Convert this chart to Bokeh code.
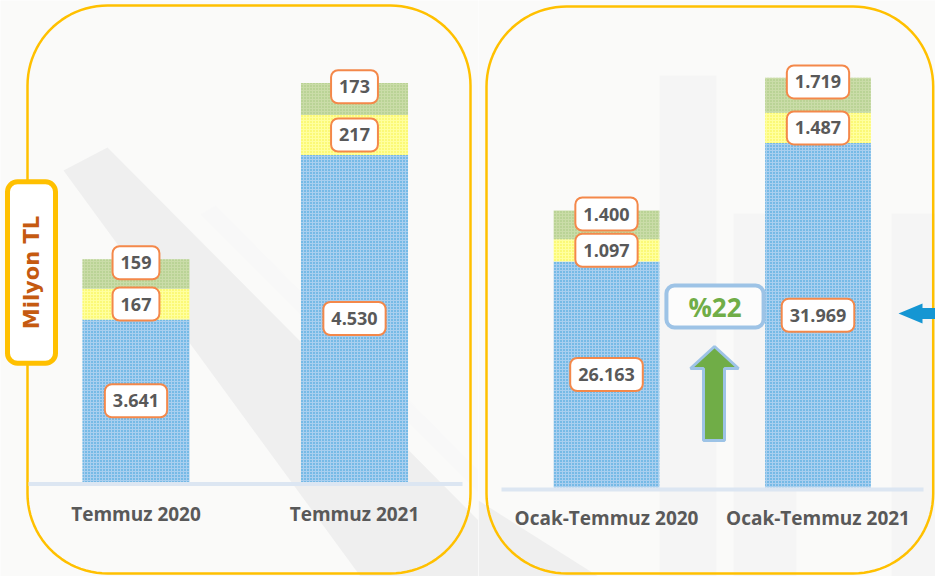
import numpy as np
from bokeh.plotting import figure
from bokeh.layouts import row
from bokeh.models import Range1d
from bokeh.core.properties import value
from bokeh.embed import file_html
from bokeh.resources import INLINE

# ---------------- data ----------------
left_categories = ["Temmuz 2020", "Temmuz 2021"]
left_blue = [3641, 4530]
left_yellow = [167, 217]
left_green = [159, 173]
left_blue_labels = ["3.641", "4.530"]
left_yellow_labels = ["167", "217"]
left_green_labels = ["159", "173"]

right_categories = ["Ocak-Temmuz 2020", "Ocak-Temmuz 2021"]
right_blue = [26163, 31969]
right_yellow = [1097, 1487]
right_green = [1400, 1719]
right_blue_labels = ["26.163", "31.969"]
right_yellow_labels = ["1.097", "1.487"]
right_green_labels = ["1.400", "1.719"]

unit_label = "Milyon TL"
change_label = "%22"

# ---------------- style ----------------
FONT = value("Open Sans")
BG = "#FAFAF9"
PANEL = "#FFC000"
TXT = "#595959"
BLUE, BLUE_H = "#A9CFEF", "#2A9AD8"
YEL, YEL_H = "#FFFF9E", "#F5F03A"
GRN, GRN_H = "#CADCA8", "#A3C57A"
BOXLINE = "#F4884A"
H = 576


def make_fig(width, xr, yr):
    p = figure(width=width, height=H, x_range=Range1d(*xr), y_range=Range1d(*yr),
               toolbar_location=None, output_backend="svg", min_border=0,
               x_axis_location=None, y_axis_location=None)
    p.grid.visible = False
    p.outline_line_color = None
    p.background_fill_color = BG
    p.border_fill_color = BG
    return p


def mapper(width, xr, yr):
    def px(x):
        return xr[0] + np.asarray(x, dtype=float) / width * (xr[1] - xr[0])

    def py(y):
        return yr[1] - np.asarray(y, dtype=float) / H * (yr[1] - yr[0])
    return px, py


def rounded(p, px, py, l, r, t, b, rad, **kw):
    ang = np.linspace(0, np.pi / 2, 24)
    xs, ys = [], []
    for cx, cy, a0 in [(r - rad, t + rad, 0), (l + rad, t + rad, np.pi / 2),
                       (l + rad, b - rad, np.pi), (r - rad, b - rad, 1.5 * np.pi)]:
        xs += list(cx + rad * np.cos(a0 + ang))
        ys += list(cy - rad * np.sin(a0 + ang))
    p.patch(px(xs), py(ys), **kw)


def draw_panel(p, px, py, cats, blue, yellow, green, bl, yl, gl, axis_min, bw,
               panel_box, base_line, cat_y):
    x = np.arange(len(cats))
    blue = np.array(blue, float)
    yellow = np.array(yellow, float)
    green = np.array(green, float)
    top_b = blue
    top_y = blue + yellow
    top_g = top_y + green
    # panel frame
    l, r, t, b = panel_box
    rounded(p, px, py, l, r, t, b, 80, fill_alpha=0, line_color=PANEL, line_width=2.5)
    # bars
    hatch = dict(hatch_pattern="dot", hatch_scale=3, hatch_weight=1.2, line_color=None)
    p.vbar(x=x, width=bw, bottom=axis_min, top=top_b, fill_color=BLUE, hatch_color=BLUE_H, **hatch)
    p.vbar(x=x, width=bw, bottom=top_b, top=top_y, fill_color=YEL, hatch_color=YEL_H, **hatch)
    p.vbar(x=x, width=bw, bottom=top_y, top=top_g, fill_color=GRN, hatch_color=GRN_H, **hatch)
    # baseline
    x0, x1, yb = base_line
    p.segment(x0=[px(x0)], y0=[py(yb)], x1=[px(x1)], y1=[py(yb)], line_color="#DCE6F2", line_width=4)
    # labels
    lab = dict(text_font=FONT, text_font_style="bold", text_font_size="18px", text_color=TXT,
               text_align="center", text_baseline="middle", background_fill_color="white",
               border_line_color=BOXLINE, border_line_width=2, border_radius=7,
               padding=dict(left=8, right=8, top=10, bottom=10))
    p.text(x=x, y=(axis_min + top_b) / 2, text=bl, **lab)
    p.text(x=x, y=top_b + yellow / 2, text=yl, **lab)
    p.text(x=x, y=top_g - 0.12 * green, text=gl, **lab)
    # category labels
    p.text(x=x, y=[py(cat_y)] * len(cats), text=cats, text_font=FONT, text_font_style="bold",
           text_font_size="19px", text_color=TXT, text_align="center", text_baseline="middle")


# ---------------- left panel ----------------
LW = 478
lxr = (-0.6201, 1.5675)
lyr = (2252, 5365.5)
lmin = 2763
p1 = make_fig(LW, lxr, lyr)
lpx, lpy = mapper(LW, lxr, lyr)
p1.patch(lpx([63, 107, 478, 478, 360]), lpy([170, 147, 520, 576, 576]), fill_color="#EFEFEF", line_color=None)
p1.patch(lpx([200, 215, 478, 478]), lpy([214, 205, 470, 492]), fill_color="#F8F8F8", line_color=None)
draw_panel(p1, lpx, lpy, left_categories, left_blue, left_yellow, left_green,
           left_blue_labels, left_yellow_labels, left_green_labels, lmin, 0.49,
           (27, 470, 5, 573), (28, 462, 483.5), 513)
p1.text(x=[lpx(31)], y=[lpy(272)], text=[unit_label], angle=np.pi / 2, text_font=value("DejaVu Sans"),
        text_font_style="bold", text_font_size="21px", text_color="#C55A11",
        text_align="center", text_baseline="middle", background_fill_color="white",
        border_line_color=PANEL, border_line_width=5, border_radius=10,
        padding=dict(left=34, right=34, top=12, bottom=12))

# ---------------- right panel ----------------
RW = 457
rxr = (-0.6052, 1.5556)
ryr = (10714, 38963)
rmin = 15079
p2 = make_fig(RW, rxr, ryr)
rpx, rpy = mapper(RW, rxr, ryr)
for (a, c, top) in [(181, 238, 75), (255, 318, 213), (413, 457, 213)]:
    p2.quad(left=[rpx(a)], right=[rpx(c)], top=[rpy(top)], bottom=[rpy(576)],
            fill_color="#F5F5F5", line_color=None)
p2.patch(rpx([0, 120, 0]), rpy([500, 576, 576]), fill_color="#EFEFEF", line_color=None)
draw_panel(p2, rpx, rpy, right_categories, right_blue, right_yellow, right_green,
           right_blue_labels, right_yellow_labels, right_green_labels, rmin, 0.50,
           (8, 454.7, 6, 573), (23, 445, 489), 517)
# growth arrow and label
ax = np.array([714, 690, 703, 703, 724, 724, 738]) - LW
ay = [346, 368, 368, 440, 440, 368, 368]
p2.patch(rpx(ax), rpy(ay), fill_color="#70AD47", line_color="#9DC3E6", line_width=3)
p2.text(x=[rpx(714.5 - LW)], y=[rpy(306)], text=[change_label], text_font=FONT,
        text_font_style="bold", text_font_size="26px", text_color="#70AD47",
        text_align="center", text_baseline="middle", background_fill_color="#FCFCFC",
        border_line_color="#9DC3E6", border_line_width=4, border_radius=8,
        padding=dict(left=22, right=22, top=3, bottom=3))
bx = np.array([898, 922, 922, 940, 940, 922, 922]) - LW
by = [313, 303, 307.5, 307.5, 318.5, 318.5, 323]
p2.patch(rpx(bx), rpy(by), fill_color="#1596D3", line_color=None)

layout = row(p1, p2, spacing=0)
open("out.html", "w").write(file_html(layout, INLINE))
